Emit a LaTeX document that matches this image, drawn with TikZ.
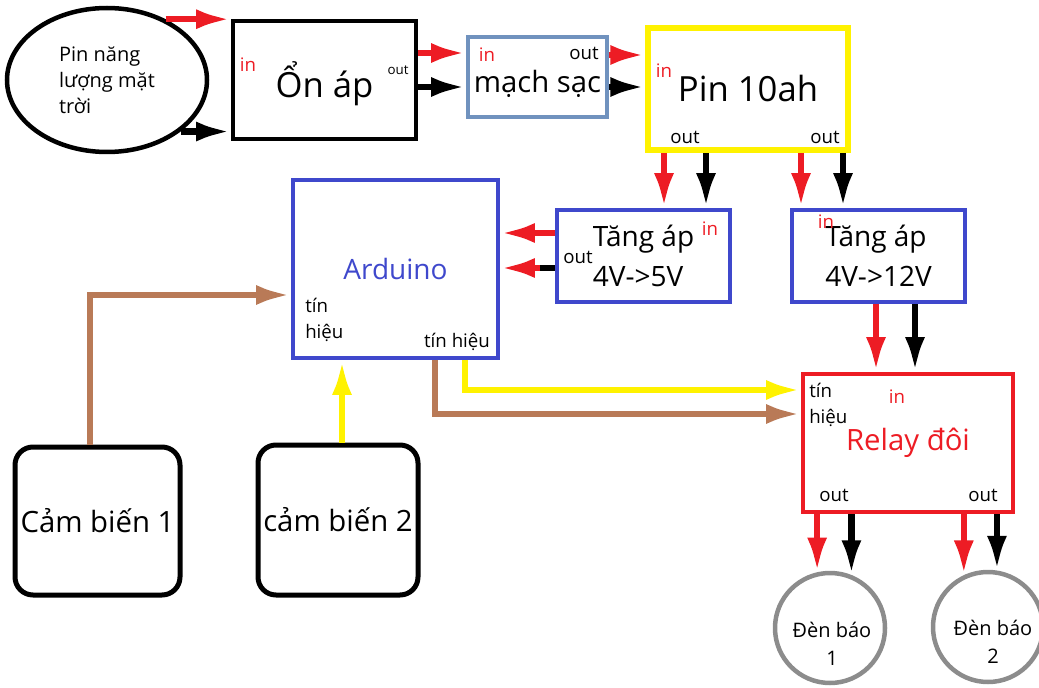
\documentclass[tikz,border=0pt]{standalone}
\usepackage{fontspec}
\setmainfont{Open Sans}
\usetikzlibrary{shapes.geometric, arrows.meta}
\definecolor{paintred}{RGB}{237,28,36}
\definecolor{paintbrown}{RGB}{185,122,87}
\definecolor{paintyellow}{RGB}{255,242,0}
\definecolor{paintblue}{RGB}{63,72,204}
\definecolor{steelblue}{RGB}{112,146,190}
\definecolor{lampgray}{RGB}{140,140,140}
\newdimen\pxu \pxu=0.75pt
\newcommand{\fsz}[2]{\fontsize{#1}{#2}\selectfont}

\begin{document}
\begin{tikzpicture}[x=0.75pt, y=-0.75pt,
		box/.style={draw, line width=4.5\pxu, inner sep=0pt, align=center},
		ellbox/.style={ellipse, draw, line width=4.5\pxu, inner sep=0pt, align=left},
		sensor/.style={draw, line width=5\pxu, rounded corners=18\pxu, inner sep=0pt,
			align=center, font=\fsz{22}{26}},
		lamp/.style={circle, draw=lampgray, line width=4.5\pxu, inner sep=0pt, minimum size=110\pxu},
		lbl/.style={inner sep=0pt, align=left, font=\fsz{14}{19}},
		inlbl/.style={lbl, text=paintred},
		wire/.style={line width=6.5\pxu, -{Latex[length=26pt,width=15pt]}},
		redw/.style={wire, draw=paintred},
		blkw/.style={wire, draw=black},
		yelw/.style={wire, draw=paintyellow},
		brnw/.style={wire, draw=paintbrown}]
	
	\useasboundingbox (0,0) rectangle (1039,688);
	
	%% -- power chain --
	\node[ellbox, minimum width=200\pxu, minimum height=144\pxu, font=\fsz{15}{19.5}] (sun) at (107,80)
	{Pin năng\\lượng mặt\\trời};
	\node[box, minimum width=183\pxu, minimum height=118\pxu, font=\fsz{26}{30},
		text height=20pt, text depth=0pt] (onap) at (324.5,80) {\raisebox{-4\pxu}{Ổn áp}};
	\node[box, draw=steelblue, minimum width=139\pxu, minimum height=80\pxu, font=\fsz{22}{26},
		text height=16pt, text depth=0pt] (mach) at (537.5,77) {\raisebox{-5\pxu}{mạch sạc}};
	\node[box, draw=paintyellow, line width=6\pxu, minimum width=200\pxu, minimum height=122\pxu,
		font=\fsz{26}{30}] (pin) at (748,89) {Pin 10ah};
	
	%% -- converters, controller, relay --
	\node[box, draw=paintblue, minimum width=205\pxu, minimum height=178\pxu, text=paintblue,
		font=\fsz{21}{25}] (ard) at (395.5,269) {Arduino};
	\node[box, draw=paintblue, align=left, minimum width=173\pxu, minimum height=92\pxu,
		font=\fsz{21}{30}] (tang5) at (643.5,256) {Tăng áp\\4V->5V};
	\node[box, draw=paintblue, align=left, minimum width=173\pxu, minimum height=92\pxu,
		font=\fsz{21}{30}] (tang12) at (878.5,256) {Tăng áp\\4V->12V};
	\node[box, draw=paintred, minimum width=210\pxu, minimum height=138\pxu, text=paintred,
		font=\fsz{22}{26}] (relay) at (908,443) {Relay đôi};
	
	%% -- sensors and lamps --
	\node[sensor, minimum width=165\pxu, minimum height=148\pxu] (cb1) at (97.5,521) {Cảm biến 1};
	\node[sensor, minimum width=160\pxu, minimum height=150\pxu] (cb2) at (338,520) {cảm biến 2};
	\node[lamp] (lamp1) at (830,628) {};
	\node[lamp] (lamp2) at (988,627) {};
	\node[lbl, align=center, font=\fsz{15}{21}] (lamp1txt) at (832,644) {Đèn báo\\1};
	\node[lbl, align=center, font=\fsz{15}{21}] (lamp2txt) at (993,642) {Đèn báo\\2};
	
	%% -- small port labels --
	\node[inlbl] (onapin) at (248,65) {in};
	\node[lbl, font=\fsz{10}{12}] (onapout) at (398,70) {out};
	\node[inlbl] (machin) at (487,55) {in};
	\node[lbl] (machout) at (584,53) {out};
	\node[inlbl] (pinin) at (664,71) {in};
	\node[lbl] (pinout1) at (685,137) {out};
	\node[lbl] (pinout2) at (825,137) {out};
	\node[inlbl] (tang5in) at (710,229) {in};
	\node[lbl] (tang5out) at (578,257) {out};
	\node[inlbl] (tang12in) at (826,222) {in};
	\node[lbl, anchor=west] (ardsig1) at (305,320) {tín\\hiệu};
	\node[lbl] (ardsig2) at (457,342) {tín hiệu};
	\node[lbl, anchor=west] (relaysig) at (809,405) {tín\\hiệu};
	\node[inlbl] (relayin) at (897,397) {in};
	\node[lbl] (relayout1) at (834,495) {out};
	\node[lbl] (relayout2) at (983,495) {out};
	
	%% -- power wires --
	\draw[redw] (sun.46) -- (sun.46 -| onap.west);
	\draw[blkw] (sun.-35) -- (sun.-35 -| onap.west);
	\draw[redw] (onap.east |- 0,53) -- (mach.west |- 0,53);
	\draw[blkw] (onap.east |- 0,87) -- (mach.west |- 0,87);
	\draw[redw] (mach.east |- 0,55) -- (pin.west |- 0,55);
	\draw[blkw] (mach.east |- 0,87) -- (pin.west |- 0,87);
	
	\draw[redw] (pin.south -| 664,0) -- (tang5.north -| 664,0);
	\draw[blkw] (pin.south -| 706,0) -- (tang5.north -| 706,0);
	\draw[redw] (pin.south -| 801,0) -- (tang12.north -| 801,0);
	\draw[blkw] (pin.south -| 843,0) -- (tang12.north -| 843,0);
	
	\draw[redw] (tang5.west |- 0,233) -- (ard.east |- 0,233);
	\coordinate (split) at (540,268);
	\draw[line width=6\pxu] (tang5.west |- split) -- (split);
	\draw[redw] (split) -- (ard.east |- split);
	
	\draw[redw] (tang12.south -| 876,0) -- (relay.north -| 876,0);
	\draw[blkw] (tang12.south -| 915,0) -- (relay.north -| 915,0);
	
	\draw[redw] (lamp1.103 |- relay.south) -- (lamp1.103);
	\draw[blkw] (lamp1.68 |- relay.south) -- (lamp1.68);
	\draw[redw] (lamp2.115 |- relay.south) -- (lamp2.115);
	\draw[blkw] (lamp2.81 |- relay.south) -- (lamp2.81);
	
	%% -- signal wires --
	\draw[brnw] (cb1.north -| 90,0) |- (ard.west |- 0,295);
	\draw[yelw] (cb2.north -| 342,0) -- (ard.south -| 342,0);
	\draw[yelw] (ard.south -| 465,0) |- (relay.west |- 0,390);
	\draw[brnw] (ard.south -| 435,0) |- (relay.west |- 0,414);
	
\end{tikzpicture}
\end{document}
